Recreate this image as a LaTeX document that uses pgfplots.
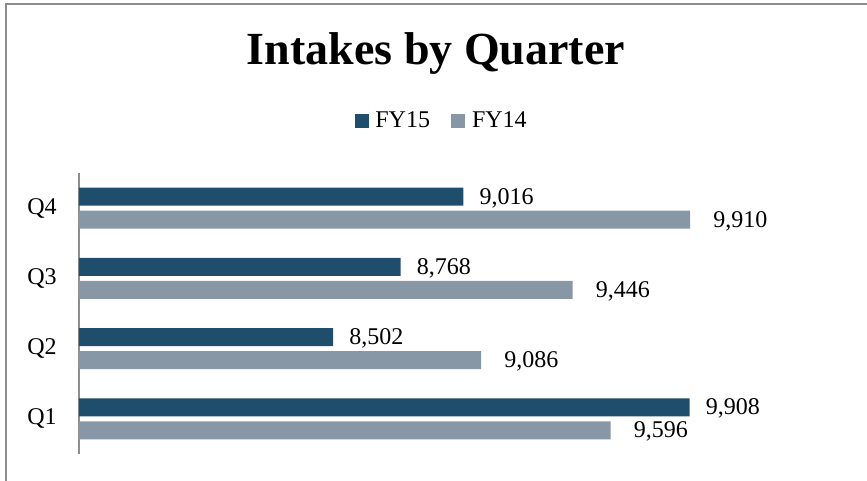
\documentclass[border=0pt]{standalone}
\usepackage{fontspec}
\setmainfont{Liberation Serif}
\usepackage{pgfplots}
\pgfplotsset{compat=1.18}
\definecolor{fyA}{HTML}{1F4E6D}
\definecolor{fyB}{HTML}{8897A6}
\definecolor{framec}{HTML}{8E8E8E}
\begin{document}
\begin{tikzpicture}
\useasboundingbox (0,0) rectangle (650.25pt,360.75pt);
\draw[framec, line width=1pt] (4.5pt,0) -- (4.5pt,357.75pt) -- (650.25pt,357.75pt);
\begin{axis}[
 at={(59.25pt,20.25pt)}, anchor=south west,
 scale only axis, width=475.5pt, height=210.75pt,
 xbar, bar width=13.5pt,
 xmin=7500, xmax=10000,
 ymin=0.5, ymax=4.5,
 ytick={1,2,3,4}, yticklabels={Q1,Q2,Q3,Q4},
 hide x axis,
 axis y line*=left,
 y axis line style={framec, line width=1pt},
 major tick length=0pt,
 yticklabel style={font=\fontsize{18}{18}\selectfont, inner sep=0pt, xshift=-16.5pt},
 clip=false,
 point meta=x,
 nodes near coords,
 every node near coord/.append style={font=\fontsize{18}{18}\selectfont, anchor=west, inner sep=0pt, text=black, yshift=-1pt},
 /pgf/number format/fixed,
 /pgf/number format/precision=0,
 /pgf/number format/1000 sep={,},
 /pgf/number format/assume math mode=true,
 legend style={at={(0.5726,1.185)}, anchor=center, draw=none, legend columns=2,
   font=\fontsize{18}{18}\selectfont, inner sep=0pt,
   /tikz/every odd column/.append style={column sep=3pt},
   /tikz/every even column/.append style={column sep=14pt}},
 legend image code/.code={\fill[#1] (0pt,-5.25pt) rectangle (10.5pt,5.25pt);},
]
\addplot[fill=fyA, draw=none, bar shift=8.6pt, every node near coord/.append style={xshift=12pt}]
  coordinates {(9908,1) (8502,2) (8768,3) (9016,4)};
\addplot[fill=fyB, draw=none, bar shift=-8.6pt, every node near coord/.append style={xshift=17.25pt}]
  coordinates {(9596,1) (9086,2) (9446,3) (9910,4)};
\legend{FY15,FY14}
\end{axis}
\node[font=\bfseries\fontsize{34.5}{36}\selectfont, anchor=base, inner sep=0pt] at (327pt,312pt) {Intakes by Quarter};
\end{tikzpicture}
\end{document}
